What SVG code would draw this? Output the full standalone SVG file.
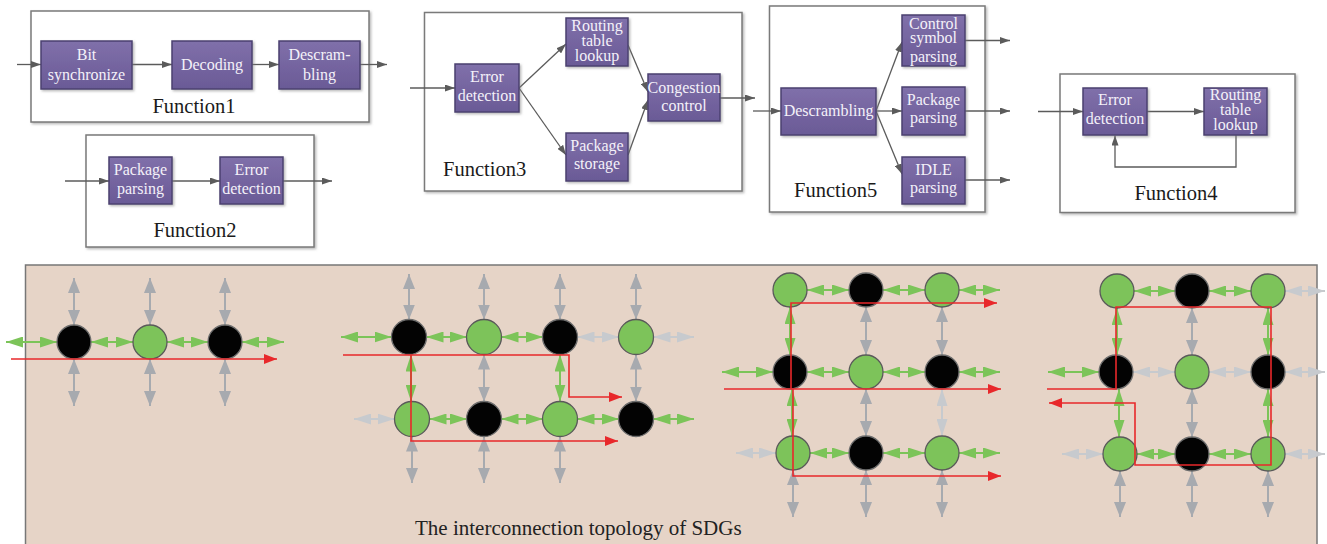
<svg xmlns="http://www.w3.org/2000/svg" width="1327" height="544" viewBox="0 0 1327 544">
  <defs>
    <style>
      .frame { fill: #ffffff; stroke: #7a7a7a; stroke-width: 1.5; filter: url(#soft); }
      .blk { fill: url(#pg); stroke: #4b4070; stroke-width: 1.5; filter: url(#soft); }
      .bt { font-family: "Liberation Serif", "Times New Roman", serif; font-size: 16px; fill: #f4f1f9; text-anchor: middle; }
      .fl { font-family: "Liberation Serif", "Times New Roman", serif; font-size: 20.5px; fill: #1a1a1a; }
      .flow { fill: none; stroke: #5b5b5b; stroke-width: 1.3; marker-end: url(#fa); }
      .g { stroke: #7cc459; stroke-width: 2; marker-start: url(#gh); marker-end: url(#gh); }
      .a { stroke: #a7aaaf; stroke-width: 2; marker-start: url(#ah); marker-end: url(#ah); }
      .l { stroke: #c7cace; stroke-width: 2; marker-start: url(#lh); marker-end: url(#lh); }
      .red { fill: none; stroke: #e8282b; stroke-width: 1.6; marker-end: url(#rh); }
      .gn { fill: #7dc35a; stroke: #5a5a5a; stroke-width: 1.3; }
      .bk { fill: #030303; stroke: #6e6e6e; stroke-width: 1.3; }
    </style>
    <linearGradient id="pg" x1="0" y1="0" x2="0" y2="1">
      <stop offset="0" stop-color="#8070aa"/>
      <stop offset="1" stop-color="#6a5a96"/>
    </linearGradient>
    <filter id="soft" x="-10%" y="-10%" width="130%" height="130%">
      <feDropShadow dx="1.5" dy="1.5" stdDeviation="1" flood-color="#808080" flood-opacity="0.55"/>
    </filter>
    <marker id="fa" viewBox="0 0 10 7" markerWidth="10" markerHeight="7" refX="10" refY="3.5" orient="auto" markerUnits="userSpaceOnUse">
      <path d="M0,0 L10,3.5 L0,7 z" fill="#5b5b5b"/>
    </marker>
    <marker id="gh" viewBox="0 0 17 11" markerWidth="17" markerHeight="11" refX="17" refY="5.5" orient="auto-start-reverse" markerUnits="userSpaceOnUse">
      <path d="M0,0 L17,5.5 L0,11 z" fill="#7cc459"/>
    </marker>
    <marker id="ah" viewBox="0 0 15 12" markerWidth="15" markerHeight="12" refX="15" refY="6" orient="auto-start-reverse" markerUnits="userSpaceOnUse">
      <path d="M0,0 L15,6 L0,12 z" fill="#a7aaaf"/>
    </marker>
    <marker id="lh" viewBox="0 0 17 11" markerWidth="17" markerHeight="11" refX="17" refY="5.5" orient="auto-start-reverse" markerUnits="userSpaceOnUse">
      <path d="M0,0 L17,5.5 L0,11 z" fill="#c7cace"/>
    </marker>
    <marker id="rh" viewBox="0 0 13 10" markerWidth="13" markerHeight="10" refX="13" refY="5" orient="auto" markerUnits="userSpaceOnUse">
      <path d="M0,0 L13,5 L0,10 z" fill="#e8282b"/>
    </marker>
  </defs>

  <rect width="1327" height="544" fill="#ffffff"/>

  <!-- function frames -->
  <g id="function1">
    <rect class="frame" x="31" y="11" width="338" height="111"/>
    <text class="fl" x="194" y="112.5" text-anchor="middle">Function1</text>
  </g>
  <g id="function2">
    <rect class="frame" x="86" y="135" width="228" height="112"/>
    <text class="fl" x="195" y="237" text-anchor="middle">Function2</text>
  </g>
  <g id="function3">
    <rect class="frame" x="424.5" y="12.5" width="317.5" height="178.5"/>
    <text class="fl" x="443" y="176">Function3</text>
  </g>
  <g id="function5">
    <rect class="frame" x="769.5" y="6" width="215.5" height="206"/>
    <text class="fl" x="794" y="197">Function5</text>
  </g>
  <g id="function4">
    <rect class="frame" x="1060" y="74" width="235" height="138.5"/>
    <text class="fl" x="1176" y="200" text-anchor="middle">Function4</text>
  </g>

  <!-- flow connectors -->
  <g id="flow-connectors">
    <line class="flow" x1="17" y1="64.5" x2="41" y2="64.5"/>
    <line class="flow" x1="132" y1="64.5" x2="172" y2="64.5"/>
    <line class="flow" x1="252" y1="64.5" x2="279" y2="64.5"/>
    <line class="flow" x1="360" y1="64.5" x2="387" y2="64.5"/>

    <line class="flow" x1="65" y1="181" x2="109" y2="181"/>
    <line class="flow" x1="172" y1="181" x2="220" y2="181"/>
    <line class="flow" x1="283" y1="181" x2="332" y2="181"/>

    <line class="flow" x1="410" y1="88" x2="455" y2="88"/>
    <line class="flow" x1="519" y1="88" x2="566" y2="44"/>
    <line class="flow" x1="519" y1="88" x2="566" y2="155"/>
    <line class="flow" x1="628" y1="45" x2="648" y2="92"/>
    <line class="flow" x1="628" y1="155" x2="648" y2="100"/>
    <line class="flow" x1="720" y1="98" x2="755" y2="98"/>

    <line class="flow" x1="753" y1="111" x2="781" y2="111"/>
    <line class="flow" x1="876" y1="111" x2="902" y2="42"/>
    <line class="flow" x1="876" y1="111" x2="902" y2="111"/>
    <line class="flow" x1="876" y1="111" x2="902" y2="174"/>
    <line class="flow" x1="965" y1="40.5" x2="1010" y2="40.5"/>
    <line class="flow" x1="965" y1="111" x2="1010" y2="111"/>
    <line class="flow" x1="965" y1="180" x2="1010" y2="180"/>

    <line class="flow" x1="1038" y1="111.5" x2="1083" y2="111.5"/>
    <line class="flow" x1="1147" y1="111.5" x2="1204" y2="111.5"/>
    <polyline class="flow" points="1236,135 1236,167 1115,167 1115,135.5"/>
  </g>

  <!-- function blocks -->
  <g id="bit-synchronize">
    <rect class="blk" x="41" y="41" width="91" height="48"/>
    <text class="bt" x="86.5" y="59.5">Bit</text>
    <text class="bt" x="86.5" y="79.5">synchronize</text>
  </g>
  <g id="decoding">
    <rect class="blk" x="172" y="41" width="80" height="48"/>
    <text class="bt" x="212" y="70">Decoding</text>
  </g>
  <g id="descrambling-1">
    <rect class="blk" x="279" y="41" width="81" height="48"/>
    <text class="bt" x="319.5" y="59.5">Descram-</text>
    <text class="bt" x="319.5" y="79.5">bling</text>
  </g>

  <g id="package-parsing-2">
    <rect class="blk" x="109" y="157" width="63" height="47"/>
    <text class="bt" x="140.5" y="174.5">Package</text>
    <text class="bt" x="140.5" y="193.5">parsing</text>
  </g>
  <g id="error-detection-2">
    <rect class="blk" x="220" y="157" width="63" height="47"/>
    <text class="bt" x="251.5" y="174.5">Error</text>
    <text class="bt" x="251.5" y="193.5">detection</text>
  </g>

  <g id="error-detection-3">
    <rect class="blk" x="455" y="64" width="64" height="48"/>
    <text class="bt" x="487" y="82">Error</text>
    <text class="bt" x="487" y="101">detection</text>
  </g>
  <g id="routing-table-lookup-3">
    <rect class="blk" x="566" y="18" width="62" height="48"/>
    <text class="bt" x="597" y="31">Routing</text>
    <text class="bt" x="597" y="46">table</text>
    <text class="bt" x="597" y="60.5">lookup</text>
  </g>
  <g id="package-storage-3">
    <rect class="blk" x="566" y="133" width="62" height="48"/>
    <text class="bt" x="597" y="150.5">Package</text>
    <text class="bt" x="597" y="169">storage</text>
  </g>
  <g id="congestion-control-3">
    <rect class="blk" x="648" y="74" width="72" height="47"/>
    <text class="bt" x="684" y="92.5">Congestion</text>
    <text class="bt" x="684" y="110.5">control</text>
  </g>

  <g id="descrambling-5">
    <rect class="blk" x="781" y="88" width="95" height="47"/>
    <text class="bt" x="828.5" y="116">Descrambling</text>
  </g>
  <g id="control-symbol-parsing-5">
    <rect class="blk" x="902" y="15" width="63" height="51"/>
    <text class="bt" x="933.5" y="28.5">Control</text>
    <text class="bt" x="933.5" y="43">symbol</text>
    <text class="bt" x="933.5" y="62">parsing</text>
  </g>
  <g id="package-parsing-5">
    <rect class="blk" x="902" y="87" width="63" height="48"/>
    <text class="bt" x="933.5" y="104.5">Package</text>
    <text class="bt" x="933.5" y="123">parsing</text>
  </g>
  <g id="idle-parsing-5">
    <rect class="blk" x="902" y="157" width="63" height="47"/>
    <text class="bt" x="933.5" y="174.5">IDLE</text>
    <text class="bt" x="933.5" y="193">parsing</text>
  </g>

  <g id="error-detection-4">
    <rect class="blk" x="1083" y="88" width="64" height="47"/>
    <text class="bt" x="1115" y="105">Error</text>
    <text class="bt" x="1115" y="123.5">detection</text>
  </g>
  <g id="routing-table-lookup-4">
    <rect class="blk" x="1204" y="88" width="63" height="47"/>
    <text class="bt" x="1235.5" y="99.5" font-size="15.5">Routing</text>
    <text class="bt" x="1235.5" y="114.5" font-size="15.5">table</text>
    <text class="bt" x="1235.5" y="129.5" font-size="15.5">lookup</text>
  </g>

  <!-- topology panel -->
  <g id="topology-panel">
    <rect x="25.5" y="265" width="1291.5" height="290" fill="#e6d4c7" stroke="#777777" stroke-width="1.5"/>
    <text x="415" y="535" font-family="Liberation Serif, Times New Roman, serif" font-size="21" fill="#222222">The interconnection topology of SDGs</text>
  </g>

  <!-- link arrows between routers -->
  <g id="links">
    <!-- chain of three -->
    <line class="g" x1="6" y1="342" x2="57" y2="342"/>
    <line class="g" x1="91" y1="342" x2="133" y2="342"/>
    <line class="g" x1="167" y1="342" x2="208" y2="342"/>
    <line class="g" x1="242" y1="342" x2="284" y2="342"/>
    <line class="a" x1="74" y1="278" x2="74" y2="325"/>
    <line class="a" x1="150" y1="278" x2="150" y2="325"/>
    <line class="a" x1="225" y1="278" x2="225" y2="325"/>
    <line class="a" x1="74" y1="359" x2="74" y2="406"/>
    <line class="a" x1="150" y1="359" x2="150" y2="406"/>
    <line class="a" x1="225" y1="359" x2="225" y2="406"/>

    <!-- 2 x 4 mesh -->
    <line class="g" x1="341" y1="337" x2="391.5" y2="337"/>
    <line class="g" x1="426.5" y1="337" x2="467" y2="337"/>
    <line class="g" x1="501.5" y1="337" x2="543" y2="337"/>
    <line class="l" x1="577.5" y1="337" x2="619" y2="337"/>
    <line class="l" x1="653.5" y1="337" x2="694" y2="337"/>
    <line class="l" x1="354" y1="419" x2="394.5" y2="419"/>
    <line class="g" x1="429.5" y1="419" x2="467" y2="419"/>
    <line class="g" x1="501.5" y1="419" x2="543" y2="419"/>
    <line class="g" x1="577.5" y1="419" x2="619" y2="419"/>
    <line class="g" x1="653.5" y1="419" x2="694" y2="419"/>
    <line class="a" x1="409" y1="274" x2="409" y2="319.5"/>
    <line class="a" x1="484" y1="274" x2="484" y2="319.5"/>
    <line class="a" x1="560" y1="274" x2="560" y2="319.5"/>
    <line class="a" x1="636" y1="274" x2="636" y2="319.5"/>
    <line class="g" x1="411" y1="354.5" x2="411" y2="401.5"/>
    <line class="a" x1="484" y1="354.5" x2="484" y2="401.5"/>
    <line class="g" x1="560" y1="354.5" x2="560" y2="401.5"/>
    <line class="a" x1="636" y1="354.5" x2="636" y2="401.5"/>
    <line class="a" x1="412" y1="436.5" x2="412" y2="483"/>
    <line class="a" x1="484" y1="436.5" x2="484" y2="483"/>
    <line class="a" x1="560" y1="436.5" x2="560" y2="483"/>

    <!-- 3 x 3 mesh, left -->
    <line class="g" x1="807" y1="290" x2="849" y2="290"/>
    <line class="g" x1="883" y1="290" x2="925" y2="290"/>
    <line class="g" x1="959" y1="290" x2="1000" y2="290"/>
    <line class="g" x1="722" y1="372" x2="773" y2="372"/>
    <line class="g" x1="807" y1="372" x2="849" y2="372"/>
    <line class="g" x1="883" y1="372" x2="925" y2="372"/>
    <line class="g" x1="959" y1="372" x2="1000" y2="372"/>
    <line class="l" x1="736" y1="453" x2="776" y2="453"/>
    <line class="g" x1="810" y1="453" x2="849" y2="453"/>
    <line class="g" x1="883" y1="453" x2="925" y2="453"/>
    <line class="g" x1="959" y1="453" x2="1000" y2="453"/>
    <line class="g" x1="790" y1="307" x2="790" y2="355"/>
    <line class="a" x1="866" y1="307" x2="866" y2="355"/>
    <line class="a" x1="942" y1="307" x2="942" y2="355"/>
    <line class="g" x1="792" y1="389" x2="792" y2="436"/>
    <line class="a" x1="866" y1="389" x2="866" y2="436"/>
    <line class="l" x1="942" y1="389" x2="942" y2="436"/>
    <line class="a" x1="793" y1="470" x2="793" y2="517"/>
    <line class="a" x1="866" y1="470" x2="866" y2="517"/>
    <line class="a" x1="942" y1="470" x2="942" y2="517"/>

    <!-- 3 x 3 mesh, right -->
    <line class="g" x1="1134" y1="291" x2="1175" y2="291"/>
    <line class="g" x1="1209" y1="291" x2="1251" y2="291"/>
    <line class="l" x1="1285" y1="291" x2="1325" y2="291"/>
    <line class="g" x1="1048" y1="372" x2="1099" y2="372"/>
    <line class="l" x1="1133" y1="372" x2="1175" y2="372"/>
    <line class="l" x1="1209" y1="372" x2="1251" y2="372"/>
    <line class="l" x1="1285" y1="372" x2="1325" y2="372"/>
    <line class="l" x1="1062" y1="454" x2="1103" y2="454"/>
    <line class="g" x1="1137" y1="454" x2="1175" y2="454"/>
    <line class="g" x1="1209" y1="454" x2="1251" y2="454"/>
    <line class="l" x1="1285" y1="454" x2="1325" y2="454"/>
    <line class="g" x1="1117" y1="308" x2="1117" y2="355"/>
    <line class="a" x1="1192" y1="308" x2="1192" y2="355"/>
    <line class="g" x1="1268" y1="308" x2="1268" y2="355"/>
    <line class="g" x1="1119" y1="389" x2="1119" y2="437"/>
    <line class="a" x1="1192" y1="389" x2="1192" y2="437"/>
    <line class="g" x1="1268" y1="389" x2="1268" y2="437"/>
    <line class="a" x1="1120" y1="471" x2="1120" y2="517"/>
    <line class="a" x1="1192" y1="471" x2="1192" y2="517"/>
    <line class="a" x1="1268" y1="471" x2="1268" y2="517"/>
  </g>

  <!-- routers -->
  <g id="chain-n1"><circle class="bk" cx="74" cy="342" r="17"/></g>
  <g id="chain-n2"><circle class="gn" cx="150" cy="342" r="17"/></g>
  <g id="chain-n3"><circle class="bk" cx="225" cy="342" r="17"/></g>

  <g id="m24-r1c1"><circle class="bk" cx="409" cy="337" r="17.5"/></g>
  <g id="m24-r1c2"><circle class="gn" cx="484" cy="337" r="17.5"/></g>
  <g id="m24-r1c3"><circle class="bk" cx="560" cy="337" r="17.5"/></g>
  <g id="m24-r1c4"><circle class="gn" cx="636" cy="337" r="17.5"/></g>
  <g id="m24-r2c1"><circle class="gn" cx="412" cy="419" r="17.5"/></g>
  <g id="m24-r2c2"><circle class="bk" cx="484" cy="419" r="17.5"/></g>
  <g id="m24-r2c3"><circle class="gn" cx="560" cy="419" r="17.5"/></g>
  <g id="m24-r2c4"><circle class="bk" cx="636" cy="419" r="17.5"/></g>

  <g id="m33a-r1c1"><circle class="gn" cx="790" cy="290" r="17"/></g>
  <g id="m33a-r1c2"><circle class="bk" cx="866" cy="290" r="17"/></g>
  <g id="m33a-r1c3"><circle class="gn" cx="942" cy="290" r="17"/></g>
  <g id="m33a-r2c1"><circle class="bk" cx="790" cy="372" r="17"/></g>
  <g id="m33a-r2c2"><circle class="gn" cx="866" cy="372" r="17"/></g>
  <g id="m33a-r2c3"><circle class="bk" cx="942" cy="372" r="17"/></g>
  <g id="m33a-r3c1"><circle class="gn" cx="793" cy="453" r="17"/></g>
  <g id="m33a-r3c2"><circle class="bk" cx="866" cy="453" r="17"/></g>
  <g id="m33a-r3c3"><circle class="gn" cx="942" cy="453" r="17"/></g>

  <g id="m33b-r1c1"><circle class="gn" cx="1117" cy="291" r="17"/></g>
  <g id="m33b-r1c2"><circle class="bk" cx="1192" cy="291" r="17"/></g>
  <g id="m33b-r1c3"><circle class="gn" cx="1268" cy="291" r="17"/></g>
  <g id="m33b-r2c1"><circle class="bk" cx="1116" cy="372" r="17"/></g>
  <g id="m33b-r2c2"><circle class="gn" cx="1192" cy="372" r="17"/></g>
  <g id="m33b-r2c3"><circle class="bk" cx="1268" cy="372" r="17"/></g>
  <g id="m33b-r3c1"><circle class="gn" cx="1120" cy="454" r="17"/></g>
  <g id="m33b-r3c2"><circle class="bk" cx="1192" cy="454" r="17"/></g>
  <g id="m33b-r3c3"><circle class="gn" cx="1268" cy="454" r="17"/></g>

  <!-- packet routes -->
  <g id="routes">
    <polyline class="red" points="11,359 277,359"/>
    <polyline class="red" points="343,355 569,355 569,397 622,397"/>
    <polyline class="red" points="411,355 411,441 618,441"/>
    <polyline class="red" points="724,389 1001,389"/>
    <polyline class="red" points="791,389 791,303 997,303"/>
    <polyline class="red" points="793,389 793,476 1001,476"/>
    <polyline class="red" points="1047,389 1116,389 1116,307 1271,307 1271,465 1135,465 1135,403 1049,403"/>
  </g>
</svg>
